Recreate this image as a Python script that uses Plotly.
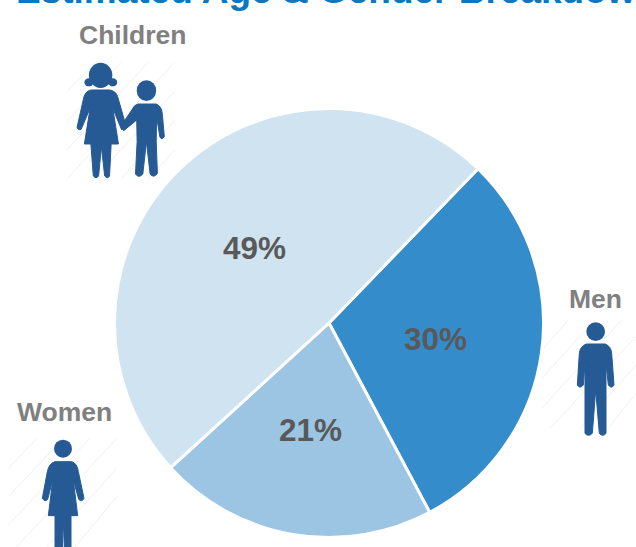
import math
import plotly.graph_objects as go

W, H = 636, 547
categories = ["Men", "Women", "Children"]
values = [30, 21, 49]
colors = ["#348ccb", "#9cc5e3", "#cfe3f1"]
start_angle = 44
ICON = "#265a94"
HATCH = "#f0f0f0"

cx, cy, R = 329, 323, 214.5
K = (2.465, 3)  # horizontal and vertical scale of the children crop
T = (3, 3)


def tx(x):
    return x / W


def ty(y):
    return 1 - y / H


def path(cmds, ox, oy, k=T):
    out = []
    for c in cmds:
        letter, nums = c[0], c[1:]
        pts = []
        for i in range(0, len(nums), 2):
            pts.append(f"{tx(ox + nums[i] / k[0]):.5f},{ty(oy + nums[i + 1] / k[1]):.5f}")
        out.append(letter + " " + " ".join(pts))
    return " ".join(out) + " Z"


def body(cmds, ox, oy, k=T):
    return dict(type="path", xref="paper", yref="paper", path=path(cmds, ox, oy, k),
                fillcolor=ICON, line=dict(color=ICON, width=1), layer="above")


def oval(cxz, cyz, rx, ry, ox, oy, k=T):
    return dict(type="circle", xref="paper", yref="paper",
                x0=tx(ox + (cxz - rx) / k[0]), x1=tx(ox + (cxz + rx) / k[0]),
                y0=ty(oy + (cyz + ry) / k[1]), y1=ty(oy + (cyz - ry) / k[1]),
                fillcolor=ICON, line=dict(color=ICON, width=0), layer="above")


def hatch(lines, ox, oy, k=T):
    return [dict(type="line", xref="paper", yref="paper",
                 x0=tx(ox + a / k[0]), y0=ty(oy + b / k[1]), x1=tx(ox + c / k[0]), y1=ty(oy + d / k[1]),
                 line=dict(color=HATCH, width=1), layer="below") for a, b, c, d in lines]


shapes = []
shapes += hatch([(165, 275, 235, 187), (165, 365, 298, 187), (165, 450, 365, 187), (165, 537, 430, 187),
                 (232, 537, 430, 275), (298, 537, 430, 362), (365, 537, 430, 450)], 0, 0, K)
shapes += hatch([(25, 235, 110, 145), (25, 320, 190, 145), (25, 405, 270, 145), (50, 471, 350, 145),
                 (140, 471, 350, 235), (225, 471, 350, 320)], 0, 390)
shapes += hatch([(35, 210, 115, 120), (35, 295, 195, 120), (35, 385, 275, 120), (60, 445, 318, 170),
                 (150, 445, 318, 255), (235, 445, 318, 340)], 530, 280)

# Girl
shapes += [oval(248, 226, 29, 38, 0, 0, K), oval(219, 247, 11, 12, 0, 0, K), oval(278, 247, 11, 12, 0, 0, K)]
shapes.append(body([("M", 225, 270), ("L", 270, 270), ("Q", 285, 272, 290, 290), ("L", 310, 375), ("L", 300, 390),
                    ("L", 278, 325), ("L", 292, 432), ("L", 274, 432), ("L", 270, 528), ("Q", 265, 538, 258, 528),
                    ("L", 250, 440), ("L", 243, 528), ("Q", 237, 538, 230, 528), ("L", 224, 432), ("L", 208, 432),
                    ("L", 222, 325), ("L", 200, 388), ("Q", 192, 392, 190, 382), ("L", 207, 290),
                    ("Q", 212, 272, 225, 270)], 0, 0, K))
# Boy
shapes.append(oval(361, 272, 24, 31, 0, 0, K))
shapes.append(body([("M", 340, 312), ("L", 385, 312), ("Q", 398, 318, 400, 340), ("L", 405, 410),
                    ("Q", 398, 422, 394, 410), ("L", 386, 350), ("L", 385, 425), ("L", 388, 520),
                    ("Q", 380, 536, 370, 522), ("L", 361, 425), ("L", 352, 522), ("Q", 342, 536, 334, 522),
                    ("L", 338, 425), ("L", 337, 360), ("L", 305, 392), ("L", 298, 378), ("L", 325, 330),
                    ("Q", 330, 315, 340, 312)], 0, 0, K))
# Woman
shapes.append(oval(189, 176, 27, 27, 0, 390))
shapes.append(body([("M", 165, 215), ("L", 215, 215), ("Q", 232, 220, 235, 245), ("L", 252, 325),
                    ("Q", 245, 338, 236, 328), ("L", 220, 270), ("L", 233, 377), ("L", 213, 377), ("L", 213, 475),
                    ("L", 193, 475), ("L", 190, 390), ("L", 187, 475), ("L", 165, 475), ("L", 165, 377),
                    ("L", 145, 377), ("L", 158, 270), ("L", 143, 328), ("Q", 135, 338, 127, 325), ("L", 142, 245),
                    ("Q", 147, 220, 165, 215)], 0, 390))
# Man
shapes.append(oval(197, 155, 28, 28, 530, 280))
shapes.append(body([("M", 170, 192), ("L", 225, 192), ("Q", 243, 198, 245, 220), ("L", 252, 315),
                    ("Q", 245, 328, 235, 315), ("L", 228, 250), ("L", 228, 460), ("Q", 218, 472, 208, 460),
                    ("L", 197, 330), ("L", 187, 460), ("Q", 175, 472, 165, 460), ("L", 165, 250), ("L", 160, 315),
                    ("Q", 150, 328, 142, 315), ("L", 148, 220), ("Q", 150, 198, 170, 192)], 530, 280))

fig = go.Figure(go.Pie(
    labels=categories, values=values, sort=False, direction="clockwise", rotation=start_angle,
    marker=dict(colors=colors, line=dict(color="white", width=3)),
    textinfo="none",
    domain=dict(x=[tx(cx - R), tx(cx + R)], y=[ty(cy + R), ty(cy - R)]),
    showlegend=False, hoverinfo="label+percent",
))


def label(text, x, y):
    return dict(text=f"<b>{text}</b>", x=tx(x), y=ty(y), xref="paper", yref="paper", showarrow=False,
                xanchor="center", yanchor="middle", font=dict(family="Liberation Sans", size=26.5, color="#808080"))


annotations = [label("Children", 132, 35), label("Women", 64, 412), label("Men", 595, 299),
               dict(text="<b>Estimated Age &amp; Gender Breakdown</b>", x=tx(14), y=ty(-9), xref="paper", yref="paper",
                    showarrow=False, xanchor="left", yanchor="middle",
                    font=dict(family="Liberation Sans", size=37, color="#0a78c2"))]

# Percentage labels centred half way along each slice's bisector
total = sum(values)
angle = start_angle
for v in values:
    mid = math.radians(angle + v / total * 180)
    angle += v / total * 360
    annotations.append(dict(text=f"<b>{v / total:.0%}</b>", x=tx(cx + R / 2 * math.sin(mid)),
                            y=ty(cy + 1.5 - R / 2 * math.cos(mid)), xref="paper", yref="paper", showarrow=False,
                            xanchor="center", yanchor="middle",
                            font=dict(family="Liberation Sans", size=31.5, color="#595959")))

fig.update_layout(width=W, height=H, margin=dict(l=0, r=0, t=0, b=0), paper_bgcolor="white",
                  shapes=shapes, annotations=annotations)
fig.write_html("out.html", config=dict(displayModeBar=False),
               post_script="document.body.style.margin='0';document.body.style.overflow='hidden';")
